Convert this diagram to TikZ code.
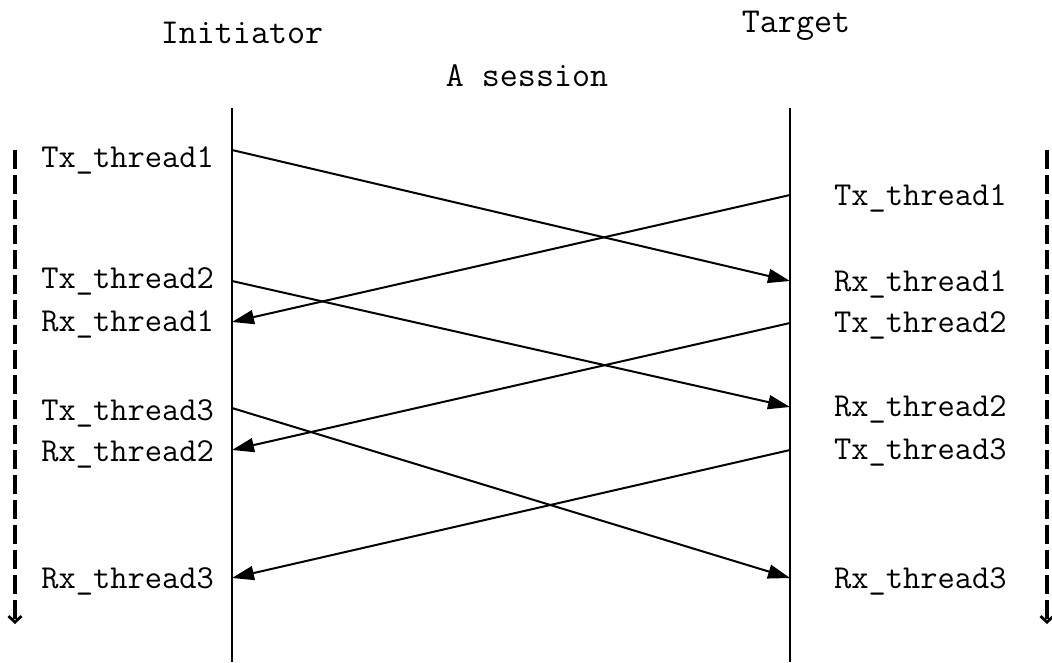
\documentclass[tikz,border=0pt]{standalone}
\usetikzlibrary{arrows.meta}
\begin{document}
\begin{tikzpicture}[x=1pt,y=-1pt,
  lbl/.style={inner sep=0pt,font=\ttfamily\fontsize{33.5}{40}\selectfont},
  head/.style={inner sep=0pt,font=\ttfamily\fontsize{35}{42}\selectfont},
  lifeline/.style={line width=2.6pt},
  msg/.style={line width=2pt,-{Triangle[length=22pt,width=14pt]}},
  timeline/.style={line width=3.6pt,dash pattern=on 19pt off 6pt,-{Straight Barb[length=6pt,width=13pt,line width=2.8pt]}}]
\useasboundingbox (0,0) rectangle (1052,662);
% headers
\node[head,anchor=base] (init) at (242,43) {Initiator};
\node[head,anchor=base] (targ) at (796,32) {Target};
\node[head,anchor=base] (sess) at (527,86) {A session};
% lifelines
\coordinate (Ltop) at (232,108); \coordinate (Lbot) at (232,662);
\coordinate (Rtop) at (790,108); \coordinate (Rbot) at (790,662);
\draw[lifeline] (Ltop) -- (Lbot);
\draw[lifeline] (Rtop) -- (Rbot);
% time lines
\coordinate (LTs) at (15,150); \coordinate (LTe) at (15,624);
\coordinate (RTs) at (1047,150); \coordinate (RTe) at (1047,624);
\draw[timeline] (LTs) -- (LTe);
\draw[timeline] (RTs) -- (RTe);
% left labels
\node[lbl,anchor=base east] (lt1) at (214,167) {Tx\_thread1};
\node[lbl,anchor=base east] (lt2) at (214,288) {Tx\_thread2};
\node[lbl,anchor=base east] (lr1) at (214,331) {Rx\_thread1};
\node[lbl,anchor=base east] (lt3) at (214,420) {Tx\_thread3};
\node[lbl,anchor=base east] (lr2) at (214,461) {Rx\_thread2};
\node[lbl,anchor=base east] (lr3) at (214,588) {Rx\_thread3};
% right labels
\node[lbl,anchor=base west] (rt1) at (834,205) {Tx\_thread1};
\node[lbl,anchor=base west] (rr1) at (834,291) {Rx\_thread1};
\node[lbl,anchor=base west] (rt2) at (834,332) {Tx\_thread2};
\node[lbl,anchor=base west] (rr2) at (834,416) {Rx\_thread2};
\node[lbl,anchor=base west] (rt3) at (834,459) {Tx\_thread3};
\node[lbl,anchor=base west] (rr3) at (834,588) {Rx\_thread3};
% message points
\coordinate (iT1) at (232,150); \coordinate (tR1) at (790,281);
\coordinate (tT1) at (790,195); \coordinate (iR1) at (232,322);
\coordinate (iT2) at (232,281); \coordinate (tR2) at (790,407);
\coordinate (tT2) at (790,323); \coordinate (iR2) at (232,450);
\coordinate (iT3) at (232,408); \coordinate (tR3) at (790,578);
\coordinate (tT3) at (790,450); \coordinate (iR3) at (232,578);
\draw[msg] (iT1) -- (tR1);
\draw[msg] (tT1) -- (iR1);
\draw[msg] (iT2) -- (tR2);
\draw[msg] (tT2) -- (iR2);
\draw[msg] (iT3) -- (tR3);
\draw[msg] (tT3) -- (iR3);
\end{tikzpicture}
\end{document}
